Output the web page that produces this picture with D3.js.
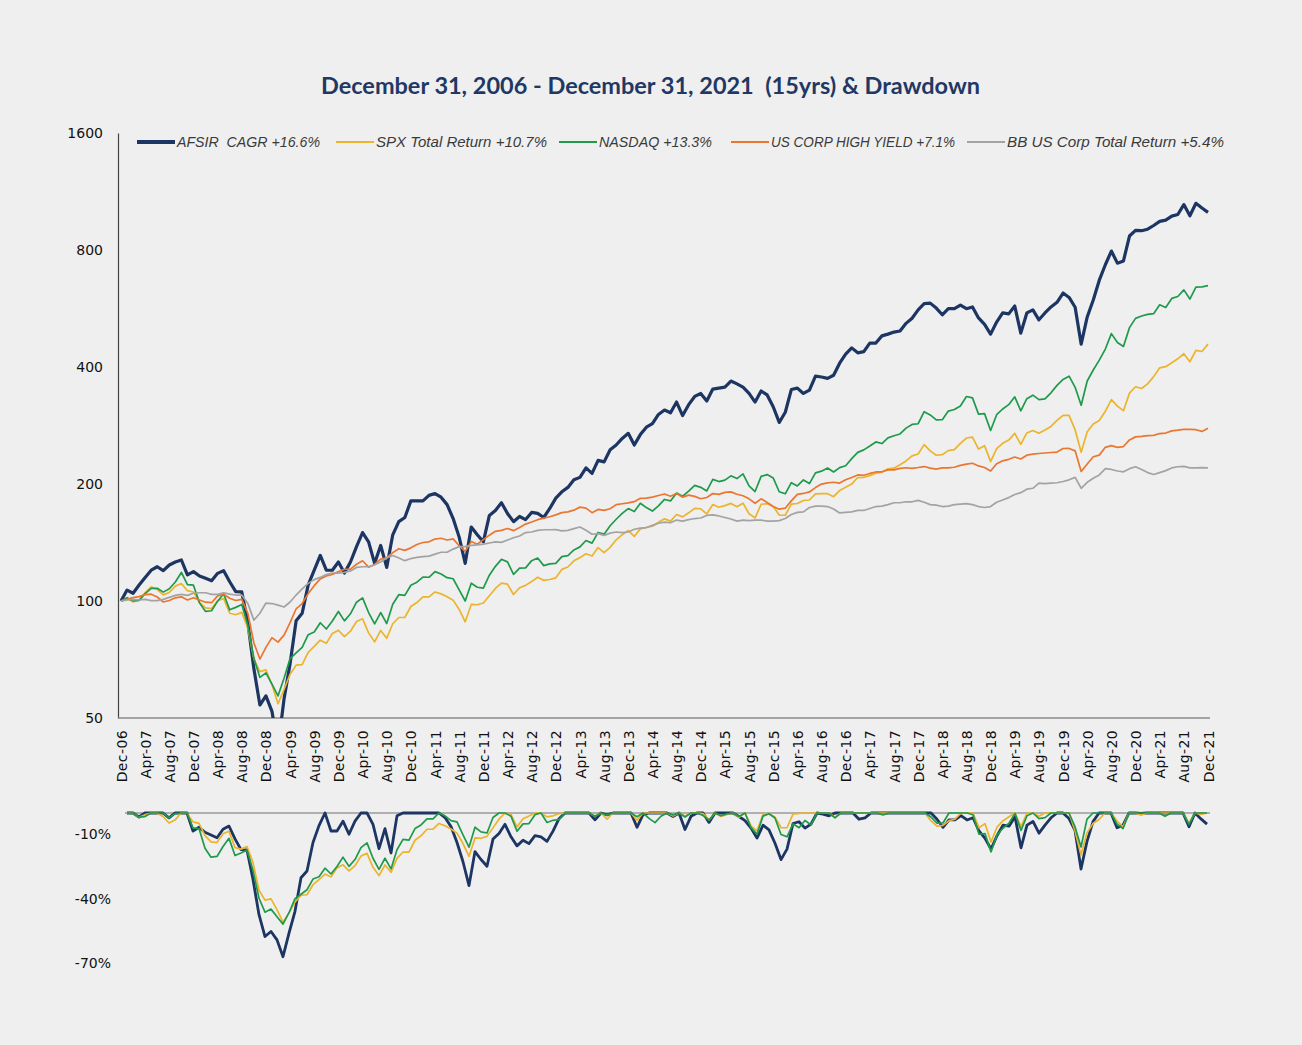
<!DOCTYPE html>
<html>
<head>
<meta charset="utf-8">
<script src="https://cdn.jsdelivr.net/npm/d3@7"></script>
<style>
  html, body { margin: 0; padding: 0; background: #efefef; }
  svg { display: block; }
  text { font-family: "Liberation Sans", Arial, sans-serif; white-space: pre; }
</style>
</head>
<body>
<div id="chart"></div>
<script>
"use strict";

var titleText = "December 31, 2006 - December 31, 2021  (15yrs) & Drawdown";

var tickLabels = ["Dec-06", "Apr-07", "Aug-07", "Dec-07", "Apr-08", "Aug-08", "Dec-08", "Apr-09", "Aug-09",
    "Dec-09", "Apr-10", "Aug-10", "Dec-10", "Apr-11", "Aug-11", "Dec-11", "Apr-12", "Aug-12", "Dec-12",
    "Apr-13", "Aug-13", "Dec-13", "Apr-14", "Aug-14", "Dec-14", "Apr-15", "Aug-15", "Dec-15", "Apr-16",
    "Aug-16", "Dec-16", "Apr-17", "Aug-17", "Dec-17", "Apr-18", "Aug-18", "Dec-18", "Apr-19", "Aug-19",
    "Dec-19", "Apr-20", "Aug-20", "Dec-20", "Apr-21", "Aug-21", "Dec-21"];

var legendLabels = ["AFSIR  CAGR +16.6%", "SPX Total Return +10.7%", "NASDAQ +13.3%",
    "US CORP HIGH YIELD +7.1%", "BB US Corp Total Return +5.4%"];

var yTicks = [50, 100, 200, 400, 800, 1600];
var ddTicks = [-10, -40, -70];

// monthly growth of 100, Dec-06 .. Dec-21
var afsir = [100,
    106.7, 104.7, 109.9, 115, 120, 122.5, 119.7, 123.8, 126, 127.5, 116.7, 119,
    116, 114.4, 112.8, 117.8, 119.7, 112.1, 105.7, 105.5, 88, 67, 54, 57,
    52, 42, 56, 69, 89, 93, 110, 120, 131, 120, 120, 126,
    118, 126, 138, 150, 142, 125, 139, 122, 148, 160, 164, 181,
    181, 181, 187, 189, 185, 177, 163, 146, 125, 155, 148, 142,
    166, 171, 179, 168, 160, 165, 162, 169, 168, 164, 173, 184,
    191, 196, 205, 208, 220, 213, 230, 228, 245, 252, 262, 270,
    252, 268, 280, 286, 302, 310, 305, 325, 300, 320, 336, 342,
    327, 351, 353, 355, 368, 362, 355, 342, 325, 347, 339, 316,
    288, 306, 350, 353, 342, 349, 379, 377, 374, 381, 409, 432,
    448, 435, 438, 461, 461, 481, 486, 492, 495, 518, 534, 561,
    582, 584, 567, 545, 565, 565, 577, 565, 571, 535, 515, 486,
    522, 551, 548, 574, 489, 551, 561, 529, 551, 571, 587, 620,
    604, 570, 458, 538, 595, 669, 733, 795, 740, 750, 869, 899,
    897, 905, 925, 948, 955, 978, 987, 1047, 980, 1055, 1026, 1000];

var spx = [100,
    101.5, 99.5, 100.7, 105.1, 108.8, 107.0, 103.7, 105.2, 109.2, 110.9, 106.3, 105.5,
    99.2, 96.0, 95.6, 100.2, 101.5, 93.0, 92.2, 93.5, 85.2, 70.9, 65.8, 66.5,
    60.9, 54.4, 59.2, 64.8, 68.4, 68.6, 73.8, 76.4, 79.3, 77.8, 82.5, 84.1,
    81.0, 83.6, 88.6, 90.0, 82.8, 78.5, 84.0, 80.2, 87.4, 90.7, 90.7, 96.8,
    99.1, 102.5, 102.5, 105.5, 104.3, 102.6, 100.5, 95.1, 88.4, 98.0, 97.8, 98.8,
    103.2, 107.7, 111.2, 110.5, 103.9, 108.2, 109.7, 112.2, 115.1, 113.0, 113.6, 114.7,
    120.6, 122.3, 126.9, 129.3, 132.3, 130.5, 137.2, 133.2, 137.4, 143.7, 148.1, 151.8,
    146.6, 153.3, 154.6, 155.7, 159.4, 162.7, 160.5, 166.9, 164.6, 168.6, 173.1, 172.7,
    167.5, 177.1, 174.3, 176.0, 178.3, 174.8, 178.5, 167.7, 163.6, 177.4, 177.9, 175.1,
    166.4, 166.2, 177.5, 178.2, 181.4, 181.9, 188.6, 188.9, 188.9, 185.5, 192.4, 196.2,
    199.9, 207.8, 208.1, 210.2, 213.2, 214.5, 218.9, 219.6, 224.1, 229.3, 236.3, 238.9,
    252.6, 243.3, 237.1, 238.0, 243.7, 245.2, 254.3, 262.6, 264.1, 246.0, 251.0, 228.3,
    246.6, 254.5, 259.4, 269.9, 252.8, 270.6, 274.5, 270.2, 275.3, 281.3, 291.5, 300.3,
    300.2, 275.5, 241.5, 272.5, 285.5, 291.2, 307.6, 329.7, 317.2, 308.8, 342.6, 355.8,
    352.2, 361.9, 377.8, 398.0, 400.8, 410.1, 419.9, 432.7, 412.6, 441.5, 438.5, 458.1];

var nasdaq = [100,
    102.0, 100.0, 100.3, 104.5, 107.8, 107.8, 105.4, 107.5, 111.9, 118.4, 110.2, 109.8,
    98.9, 94.0, 94.4, 99.9, 104.4, 94.9, 96.3, 98.0, 86.6, 71.3, 63.6, 65.3,
    61.1, 57.0, 63.3, 71.1, 73.5, 76.0, 81.9, 83.2, 87.9, 84.7, 88.8, 94.0,
    88.9, 92.7, 99.3, 101.9, 93.4, 87.3, 93.4, 87.5, 98.1, 103.8, 103.4, 109.8,
    111.8, 115.2, 115.1, 119.0, 117.4, 114.8, 114.1, 106.8, 100.0, 111.1, 108.5, 107.9,
    116.5, 122.8, 128.0, 126.1, 117.1, 121.5, 121.7, 127.0, 129.0, 123.3, 124.6, 125.0,
    130.1, 130.8, 135.3, 137.8, 143.1, 140.9, 150.1, 148.6, 156.2, 162.3, 168.1, 172.9,
    169.9, 178.4, 173.9, 170.4, 175.7, 182.5, 180.9, 189.6, 186.0, 191.7, 198.4, 196.1,
    191.9, 205.5, 202.9, 204.6, 209.9, 206.5, 212.3, 197.8, 191.3, 209.2, 211.5, 207.3,
    191.0, 188.7, 201.6, 197.7, 204.9, 200.5, 213.7, 215.8, 219.9, 214.8, 220.4, 222.9,
    232.5, 241.2, 244.8, 250.4, 256.6, 254.2, 262.8, 266.2, 269.0, 278.5, 284.6, 285.8,
    306.9, 301.1, 292.4, 292.6, 308.1, 310.9, 317.6, 335.8, 333.1, 302.5, 303.5, 274.7,
    301.5, 311.9, 320.0, 335.2, 308.6, 331.5, 338.5, 329.7, 331.2, 343.3, 358.8, 371.5,
    378.9, 354.7, 318.8, 368.1, 392.9, 416.5, 444.9, 487.5, 462.4, 451.8, 505.1, 533.6,
    541.2, 546.2, 548.5, 578.1, 569.2, 600.5, 607.5, 631.8, 598.2, 641.7, 643.3, 647.7];

var highYield = [100,
    101.0, 102.0, 102.6, 103.9, 104.1, 102.4, 99.4, 100.3, 101.9, 102.5, 100.6, 101.9,
    100.6, 99.3, 99.0, 103.1, 104.1, 101.6, 100.3, 101.0, 92.9, 78.1, 70.9, 76.0,
    80.5, 78.4, 81.7, 88.0, 95.5, 98.5, 104.5, 109.5, 114.0, 116.0, 117.0, 119.0,
    120.7, 120.8, 124.3, 126.9, 122.2, 124.2, 128.2, 129.2, 133.2, 136.3, 135.0, 137.0,
    139.7, 141.4, 142.0, 144.3, 145.0, 143.5, 144.5, 138.7, 134.2, 142.2, 140.0, 143.8,
    147.7, 151.1, 152.0, 153.7, 151.7, 154.6, 157.7, 159.7, 161.9, 163.4, 164.7, 166.6,
    168.8, 169.6, 171.3, 174.4, 173.3, 168.8, 172.0, 171.0, 172.7, 177.0, 177.9, 178.8,
    180.1, 183.7, 184.0, 185.1, 186.8, 188.5, 186.0, 189.0, 185.0, 187.2, 185.9, 183.3,
    184.6, 189.0, 188.1, 190.3, 190.9, 188.2, 186.5, 183.2, 178.4, 183.2, 179.2, 175.1,
    172.3, 173.3, 181.0, 188.0, 189.1, 190.8, 195.8, 199.9, 201.3, 202.1, 201.1, 205.0,
    207.9, 211.0, 210.6, 212.9, 214.8, 215.0, 217.4, 217.4, 219.3, 220.2, 219.5, 220.5,
    221.8, 219.8, 218.5, 220.0, 220.0, 220.9, 223.3, 224.9, 226.2, 222.6, 220.6, 215.9,
    225.6, 229.4, 231.5, 234.7, 231.9, 237.2, 238.6, 239.6, 240.3, 241.0, 241.7, 246.8,
    246.9, 243.4, 215.4, 225.1, 235.0, 237.3, 248.5, 251.0, 248.5, 249.7, 259.7, 264.4,
    265.2, 266.3, 266.8, 269.7, 270.5, 274.0, 275.1, 276.5, 276.5, 275.9, 273.1, 278.3];

var corpBond = [100,
    100.6, 101, 100.6, 101, 100.2, 100.2, 101, 102.2, 103.4, 104, 103.4, 104.7,
    105, 105, 104, 104, 105, 104.2, 103.6, 103.6, 98.6, 89.3, 93, 98.8,
    98.5, 97.6, 96.5, 99.4, 103.6, 107.4, 111, 113.5, 115, 117, 118, 118,
    118.5, 119.5, 122, 122.5, 122.5, 124, 126, 129, 131, 129, 127, 128.6,
    129.5, 130, 130.5, 132, 133.5, 133.5, 136, 138, 138, 139, 139.5, 140,
    141, 142, 141.5, 143.5, 145.5, 147, 150, 150.5, 152, 152.5, 152.5, 152.7,
    151.5, 152, 153.5, 155, 152, 148.5, 149, 147.5, 149.5, 150.5, 150, 150.5,
    153, 154, 154.5, 156.5, 158.5, 159.5, 159, 161.5, 160.5, 162, 163, 163.5,
    166, 166.5, 165.5, 164, 162.5, 160.5, 161.5, 161, 161.5, 161.5, 160.5, 160.5,
    161, 163, 167, 169, 169.5, 174, 175.5, 175.5, 175, 172.5, 168.5, 169,
    169.5, 171, 171, 173, 175, 175.5, 177, 179, 179, 180, 180, 181.5,
    179.5, 177, 176.5, 175, 175.5, 177, 177.5, 178, 177, 175, 174, 175,
    179.5, 182, 184.5, 188, 190, 194, 195, 201, 200.5, 201, 201.5, 203,
    205, 208, 195, 202, 207, 211, 219, 218, 216, 215, 219, 221.5,
    218, 214, 211.5, 214, 216.5, 220, 221.5, 222, 220, 220, 220.5, 220.1];

var createChart = function () {
    var width = 1302, height = 1045;
    var plot = { left: 118, right: 1210, top: 133, bottom: 718 };
    var dd = { left: 125, right: 1210, zero: 813 };

    var series = [
        { name: legendLabels[0], values: afsir, color: "#1c3562", width: 3.2, legendX: 137, legendW: 143, dd: true },
        { name: legendLabels[1], values: spx, color: "#ecb42c", width: 1.7, legendX: 336, legendW: 171, dd: true },
        { name: legendLabels[2], values: nasdaq, color: "#1f9a4b", width: 1.7, legendX: 559, legendW: 113, dd: true },
        { name: legendLabels[3], values: highYield, color: "#ea7630", width: 1.7, legendX: 731, legendW: 184, dd: false },
        { name: legendLabels[4], values: corpBond, color: "#a3a3a3", width: 1.7, legendX: 967, legendW: 217, dd: false }
    ];

    var svg = d3.select("#chart").append("svg")
        .attr("width", width)
        .attr("height", height);

    svg.append("rect")
        .attr("width", width)
        .attr("height", height)
        .attr("fill", "#efefef");

    svg.append("text")
        .attr("x", 321)
        .attr("y", 94)
        .attr("textLength", 659)
        .attr("lengthAdjust", "spacingAndGlyphs")
        .style("font-family", "Lato, 'Open Sans', sans-serif")
        .style("font-weight", "bold")
        .style("font-size", "22px")
        .attr("fill", "#1f3864")
        .text(titleText);

    var x = d3.scaleLinear().domain([0, afsir.length - 1]).range([121, 1208]);
    var y = d3.scaleLog().base(2).domain([50, 1600]).range([plot.bottom, plot.top]);

    svg.append("clipPath").attr("id", "plotClip")
        .append("rect")
        .attr("x", plot.left)
        .attr("y", plot.top - 5)
        .attr("width", plot.right - plot.left)
        .attr("height", plot.bottom - plot.top + 5);

    // y axis
    var yAxis = svg.append("g")
        .attr("transform", "translate(" + plot.left + ",0)")
        .call(d3.axisLeft(y).tickValues(yTicks).tickFormat(d3.format("d")).tickSize(0).tickPadding(15));
    yAxis.select(".domain").attr("stroke", "#444").attr("stroke-width", 1.2);
    yAxis.selectAll("text")
        .style("font-size", "14px")
        .style("font-family", "'DejaVu Sans', sans-serif")
        .attr("fill", "#111");

    // x axis
    var xAxis = svg.append("g")
        .attr("transform", "translate(0," + plot.bottom + ")")
        .call(d3.axisBottom(x)
            .tickValues(d3.range(0, afsir.length, 4))
            .tickFormat((d, i) => tickLabels[i])
            .tickSize(0));
    xAxis.select(".domain").remove();
    xAxis.selectAll("text")
        .attr("transform", "rotate(-90)")
        .attr("text-anchor", "end")
        .attr("x", -12)
        .attr("y", 0)
        .attr("dy", "0.36em")
        .style("font-size", "14px")
        .style("letter-spacing", "0.4px")
        .style("font-family", "'DejaVu Sans', sans-serif")
        .attr("fill", "#111");
    svg.append("line")
        .attr("x1", plot.left).attr("x2", plot.right)
        .attr("y1", plot.bottom).attr("y2", plot.bottom)
        .attr("stroke", "#8a8a8a")
        .attr("stroke-width", 1.5);

    var line = d3.line()
        .x((d, i) => x(i))
        .y(d => y(d));

    svg.append("g")
        .attr("clip-path", "url(#plotClip)")
        .selectAll("path")
        .data(series)
        .enter().append("path")
        .attr("fill", "none")
        .attr("stroke", d => d.color)
        .attr("stroke-width", d => d.width)
        .attr("stroke-linejoin", "round")
        .attr("d", d => line(d.values));

    // legend
    var legend = svg.append("g").selectAll("g")
        .data(series)
        .enter().append("g")
        .attr("transform", d => "translate(" + d.legendX + ",142)");
    legend.append("line")
        .attr("x1", 0).attr("x2", 38)
        .attr("stroke", d => d.color)
        .attr("stroke-width", (d, i) => i === 0 ? 4 : 2.2);
    legend.append("text")
        .attr("x", 40)
        .attr("dy", "0.35em")
        .attr("textLength", d => d.legendW)
        .attr("lengthAdjust", "spacingAndGlyphs")
        .style("font-size", "15px")
        .style("font-style", "italic")
        .attr("fill", "#3a3a3a")
        .text(d => d.name);

    // drawdown panel
    var xd = d3.scaleLinear().domain([0, afsir.length - 1]).range([127, 1207]);
    var yd = d3.scaleLinear().domain([-80, 0]).range([dd.zero + 80 * 2.143, dd.zero]);

    function drawdown(values) {
        var peak = -Infinity;
        return values.map(function (v) {
            peak = Math.max(peak, v);
            return (v / peak - 1) * 100;
        });
    }

    var ddAxis = svg.append("g")
        .attr("transform", "translate(" + dd.left + ",0)")
        .call(d3.axisLeft(yd).tickValues(ddTicks).tickFormat(d => d + "%").tickSize(0).tickPadding(14));
    ddAxis.select(".domain").remove();
    ddAxis.selectAll("text")
        .style("font-size", "14px")
        .style("font-family", "'DejaVu Sans', sans-serif")
        .attr("fill", "#111");

    svg.append("line")
        .attr("x1", dd.left).attr("x2", dd.right)
        .attr("y1", yd(0)).attr("y2", yd(0))
        .attr("stroke", "#9a9a9a")
        .attr("stroke-width", 1.5);

    var ddLine = d3.line()
        .x((d, i) => xd(i))
        .y(d => yd(d));

    svg.append("g")
        .selectAll("path")
        .data(series.filter(s => s.dd))
        .enter().append("path")
        .attr("fill", "none")
        .attr("stroke", d => d.color)
        .attr("stroke-width", d => d.width > 2 ? 2.8 : 1.7)
        .attr("stroke-linejoin", "round")
        .attr("d", d => ddLine(drawdown(d.values)));
};

createChart();
</script>
</body>
</html>
